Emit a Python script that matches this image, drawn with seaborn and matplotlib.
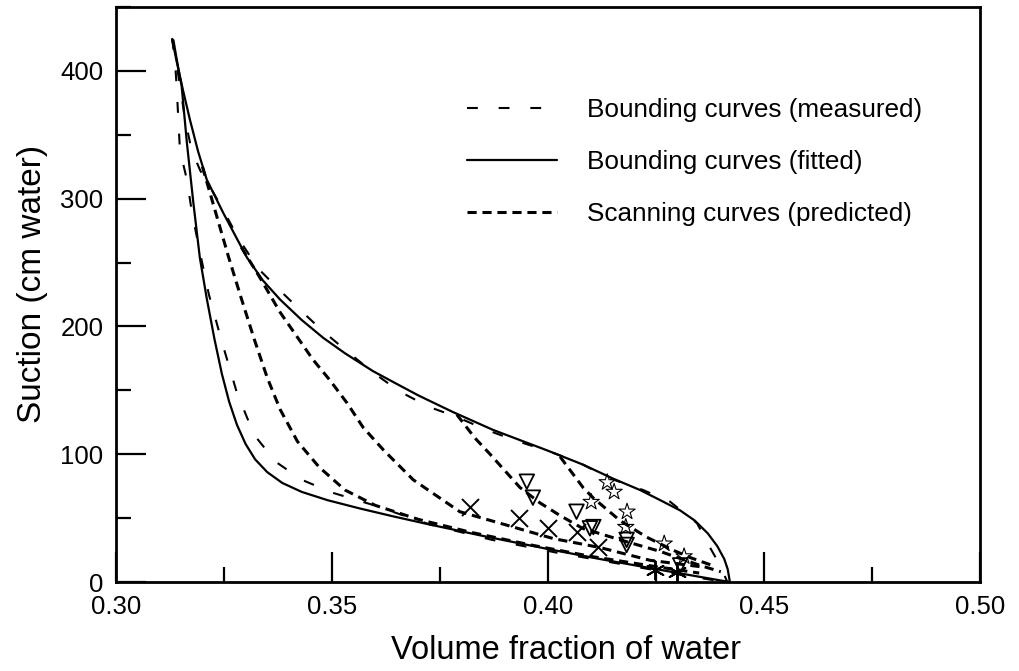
import matplotlib
matplotlib.use("Agg")
import matplotlib.pyplot as plt
import seaborn as sns
from matplotlib.lines import Line2D
from matplotlib.ticker import MultipleLocator

# ---------------- data ----------------
upper_fit_x = [0.3130, 0.3140, 0.3155, 0.3171, 0.3190, 0.3210, 0.3248, 0.3303, 0.3340,
               0.3380, 0.3430, 0.3480, 0.3530, 0.3595, 0.3650, 0.3700, 0.3780, 0.3873,
               0.3998, 0.4080, 0.4150, 0.4213, 0.4260, 0.4306, 0.4340, 0.4370, 0.4392,
               0.4408, 0.4416, 0.4421]
upper_fit_y = [425, 408, 385, 362, 337, 315, 289, 254, 236,
               221, 205, 191, 179, 165, 155, 146, 133, 119,
               103, 92, 81, 72, 64, 56, 48, 38, 28,
               18, 10, 0]

lower_fit_x = [0.3133, 0.3140, 0.3152, 0.3164, 0.3179, 0.3194, 0.3210, 0.3228, 0.3245,
               0.3262, 0.3280, 0.3300, 0.3322, 0.3350, 0.3385, 0.3430, 0.3490, 0.3565,
               0.3640, 0.3719, 0.3850, 0.3997, 0.4120, 0.4243, 0.4330, 0.4420]
lower_fit_y = [424, 410, 388, 344, 297, 254, 222, 190, 163,
               141, 123, 108, 96, 86, 77.5, 70.5, 64, 57.5,
               51.5, 45.5, 36, 26, 18, 10.5, 5.3, 0]

meas_up_x = [0.3130, 0.3145, 0.3160, 0.3175, 0.3195, 0.3215, 0.3250, 0.3285, 0.3330,
             0.3380, 0.3426, 0.3480, 0.3537, 0.3595, 0.3657, 0.3725, 0.3790, 0.3858,
             0.3931, 0.4005, 0.4074, 0.4144, 0.4220, 0.4282, 0.4345, 0.4375, 0.4400, 0.4415]
meas_up_y = [425, 395, 362, 338, 322, 311, 290, 268, 245,
             228, 213, 196, 180, 164, 149, 137, 129, 119,
             110, 102, 93, 81, 72, 63, 46, 27, 12, 0]

meas_lo_x = [0.3130, 0.3136, 0.3140, 0.3144, 0.3148, 0.3164, 0.3175, 0.3190, 0.3215,
             0.3245, 0.3280, 0.3320, 0.3370, 0.3430, 0.3500, 0.3588, 0.3727, 0.3870,
             0.4020, 0.4170, 0.4300, 0.4410]
meas_lo_y = [425, 410, 390, 364, 338, 315, 291, 265, 225,
             188, 148, 115, 94, 80, 70, 61, 45, 33,
             23, 14, 6, 0]

scan1_x = [0.3200, 0.3230, 0.3260, 0.3290, 0.3320, 0.3350, 0.3380, 0.3420, 0.3470,
           0.3530, 0.3600, 0.3700, 0.3820, 0.3960, 0.4100, 0.4250, 0.4350]
scan1_y = [325, 290, 255, 222, 190, 160, 135, 110, 90,
           72, 60, 49, 39, 29, 20, 12, 7]

scan2_x = [0.3290, 0.3330, 0.3380, 0.3419, 0.3456, 0.3495, 0.3535, 0.3572, 0.3620,
           0.3688, 0.3796, 0.3889, 0.4012, 0.4120, 0.4236, 0.4352]
scan2_y = [262, 240, 211, 192, 174, 158, 140, 121, 103,
           80, 55, 46, 34, 27, 17, 12]

scan3_x = [0.3789, 0.3830, 0.3866, 0.3935, 0.3981, 0.4028, 0.4080, 0.4167, 0.4259, 0.4352, 0.4400]
scan3_y = [131, 113, 100, 74, 62, 52, 42, 33, 24, 13, 8]

scan4_x = [0.4028, 0.4081, 0.4104, 0.4167, 0.4229, 0.4289, 0.4330, 0.4380]
scan4_y = [98, 74, 66, 48, 35, 25, 19, 13]

cross_x = [0.3819, 0.3933, 0.4000, 0.4067, 0.4116]
cross_y = [58.7, 50, 42, 39, 27.6]

aster_x = [0.4248, 0.4299]
aster_y = [9.4, 8.0]

tri_x = [0.3951, 0.3965, 0.4066, 0.4097, 0.4105, 0.4182, 0.4182, 0.4306]
tri_y = [78.5, 66, 55, 42, 43, 33, 29, 13]

star_x = [0.4137, 0.4153, 0.4100, 0.4183, 0.4180, 0.4269, 0.4315]
star_y = [78, 70.5, 62.6, 55, 43, 30, 20]

legend_labels = ["Bounding curves (measured)", "Bounding curves (fitted)",
                 "Scanning curves (predicted)"]

# ---------------- style ----------------
sns.set_theme(style="white")
plt.rcParams['font.family'] = ['Liberation Sans', 'DejaVu Sans']
plt.rcParams['text.color'] = 'black'
plt.rcParams['axes.labelcolor'] = 'black'
plt.rcParams['xtick.color'] = 'black'
plt.rcParams['ytick.color'] = 'black'

fig = plt.figure(figsize=(10.19, 6.71), dpi=100)
ax = fig.add_axes([116 / 1019, 89 / 671, 864 / 1019, 575 / 671])

meas_style = (0, (5.2, 10.0))
scan_style = (0, (3.0, 1.9))
LW_FIT = 1.6
LW_MEAS = 1.5
LW_SCAN = 2.2

def line(x, y, ls, lw):
    sns.lineplot(x=x, y=y, sort=False, estimator=None, color="black",
                 linestyle=ls, linewidth=lw, ax=ax)

line(upper_fit_x, upper_fit_y, "-", LW_FIT)
line(lower_fit_x, lower_fit_y, "-", LW_FIT)
line(meas_up_x, meas_up_y, meas_style, LW_MEAS)
line(meas_lo_x, meas_lo_y, meas_style, LW_MEAS)
for sx, sy in [(scan1_x, scan1_y), (scan2_x, scan2_y), (scan3_x, scan3_y), (scan4_x, scan4_y)]:
    line(sx, sy, scan_style, LW_SCAN)

sns.scatterplot(x=cross_x, y=cross_y, marker="x", s=150, color="black",
                linewidth=1.4, ax=ax, zorder=5)
sns.scatterplot(x=aster_x, y=aster_y, marker=(6, 2, 0), s=170, color="black",
                linewidth=1.4, ax=ax, zorder=5)
sns.scatterplot(x=tri_x, y=tri_y, marker="v", s=110, facecolor="none",
                edgecolor="black", linewidth=1.3, ax=ax, zorder=5)
sns.scatterplot(x=star_x, y=star_y, marker="*", s=150, facecolor="none",
                edgecolor="black", linewidth=0.8, ax=ax, zorder=5)

ax.set_xlim(0.30, 0.50)
ax.set_ylim(0, 450)
ax.xaxis.set_major_locator(MultipleLocator(0.05))
ax.xaxis.set_minor_locator(MultipleLocator(0.025))
ax.yaxis.set_major_locator(MultipleLocator(100))
ax.yaxis.set_minor_locator(MultipleLocator(50))
ax.set_xticklabels([f"{v:.2f}" for v in ax.get_xticks()])
ax.tick_params(which="major", direction="in", length=21.6, width=1.6,
               labelsize=18.5, color="black", labelcolor="black", pad=9,
               top=False, right=False, bottom=True, left=True)
ax.tick_params(which="minor", direction="in", length=11, width=1.6,
               color="black", top=False, right=False, bottom=True, left=True)
for sp in ax.spines.values():
    sp.set_color("black")
    sp.set_linewidth(2.0)
ax.set_xlabel("Volume fraction of water", fontsize=23.5, color="black")
ax.set_ylabel("Suction (cm water)", fontsize=24, color="black")
ax.xaxis.set_label_coords(0.521, -0.119, transform=ax.transAxes)
ax.yaxis.set_label_coords(-0.097, 0.518, transform=ax.transAxes)
ax.xaxis.label.set_va("center")
ax.yaxis.label.set_va("center")
ax.grid(False)

handles = [Line2D([], [], color="black", lw=LW_MEAS, linestyle=meas_style),
           Line2D([], [], color="black", lw=LW_FIT, linestyle="-"),
           Line2D([], [], color="black", lw=LW_SCAN, linestyle=scan_style)]
leg = ax.legend(handles, legend_labels, loc="upper left", bbox_to_anchor=(0.406, 0.842),
                frameon=False, fontsize=18.8, handlelength=3.45, handletextpad=1.15,
                labelspacing=1.08, borderpad=0, borderaxespad=0)
for t in leg.get_texts():
    t.set_color("black")

fig.savefig("out.png", dpi=100)
